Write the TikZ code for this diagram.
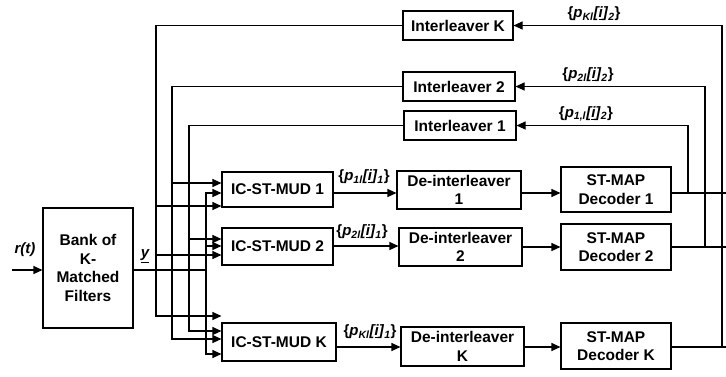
\documentclass[tikz,border=0pt]{standalone}
\usepackage{fontspec}
\setmainfont{Liberation Sans}
\usetikzlibrary{arrows.meta}
\newcommand{\plab}[2]{\{\textit{p}\textsubscript{\textit{#1}}\textit{[\underline{i}]}\textsubscript{\textit{#2}}\}}
\begin{document}
\begin{tikzpicture}[x=1pt,y=-1pt,line width=1.1pt,
  box/.style={draw,line width=1.1pt,align=center,inner sep=0pt,
    font=\fontsize{15.5}{18.5}\selectfont\bfseries},
  lab/.style={inner sep=0pt,font=\fontsize{15}{17}\selectfont\bfseries},
  arr/.style={-{Triangle[length=9pt,width=8pt]}}]
\useasboundingbox (0,0) rectangle (726,376);
% boxes
\node[box,minimum width=90pt,minimum height=120pt] (filt) at (88,268) {Bank of\\K-\\Matched\\Filters};
\node[box,minimum width=111pt,minimum height=35pt] (mud1) at (277.5,189.5) {IC-ST-MUD 1};
\node[box,minimum width=111pt,minimum height=37pt] (mud2) at (277.5,246.5) {IC-ST-MUD 2};
\node[box,minimum width=114pt,minimum height=38pt] (mudK) at (279,342) {IC-ST-MUD K};
\node[box,minimum width=124pt,minimum height=38pt] (dei1) at (459,190) {De-interleaver\\1};
\node[box,minimum width=123pt,minimum height=38pt] (dei2) at (460.5,247) {De-interleaver\\2};
\node[box,minimum width=123pt,minimum height=39pt] (deiK) at (462.5,346.5) {De-interleaver\\K};
\node[box,minimum width=110pt,minimum height=45pt] (dec1) at (616,189.5) {ST-MAP\\Decoder 1};
\node[box,minimum width=110pt,minimum height=46pt] (dec2) at (616,247) {ST-MAP\\Decoder 2};
\node[box,minimum width=110pt,minimum height=46pt] (decK) at (616,346) {ST-MAP\\Decoder K};
\node[box,minimum width=110pt,minimum height=29pt] (intK) at (458,25.5) {Interleaver K};
\node[box,minimum width=112pt,minimum height=29pt] (int2) at (459,86.5) {Interleaver 2};
\node[box,minimum width=112pt,minimum height=29pt] (int1) at (460,125.5) {Interleaver 1};
% labels
\node[lab] (lr) at (25,250) {\textit{r(t)}};
\node[lab] (ly) at (145,256) {\textit{\underline{y}}};
\node[lab] (l11) at (364,177) {\plab{1l}{1}};
\node[lab] (l21) at (362,232) {\plab{2l}{1}};
\node[lab] (lK1) at (370,332) {\plab{Kl}{1}};
\node[lab] (lK2) at (594,14) {\plab{Kl}{2}};
\node[lab] (l22) at (588,75) {\plab{2l}{2}};
\node[lab] (l12) at (586,114) {\plab{1,l}{2}};
% input
\coordinate (rin) at (12,270);
\draw[arr] (rin) -- (filt.west |- rin);
% y bus
\coordinate (yb) at (206,270);
\draw (filt.east |- yb) -- (yb);
\draw[arr] (yb) |- (mud1.west |- 0,193);
\draw[arr] (yb) |- (mudK.west |- 0,354);
\draw[arr] (206,246) -- (mud2.west |- 0,246);
% feedback from interleavers
\draw[arr] (intK.west) -| (156,316) -- (mudK.west |- 0,316);
\draw[arr] (156,206) -- (mud1.west |- 0,206);
\draw[arr] (156,255) -- (mud2.west |- 0,255);
\draw[arr] (int2.west) -| (172,339) -- (mudK.west |- 0,339);
\draw[arr] (172,183) -- (mud1.west |- 0,183);
\draw[arr] (int1.west) -| (189,331) -- (mudK.west |- 0,331);
\draw[arr] (189,239) -- (mud2.west |- 0,239);
% forward chain
\draw[arr] (mud1.east |- 0,193) -- (dei1.west |- 0,193);
\draw[arr] (mud2.east |- 0,246) -- (dei2.west |- 0,246);
\draw[arr] (mudK.east |- 0,347) -- (deiK.west |- 0,347);
\draw[arr] (dei1.east |- 0,193) -- (dec1.west |- 0,193);
\draw[arr] (dei2.east |- 0,247) -- (dec2.west |- 0,247);
\draw[arr] (deiK.east |- 0,347) -- (decK.west |- 0,347);
% decoder outputs
\coordinate (o1) at (726,193);
\coordinate (o2) at (726,247);
\coordinate (oK) at (726,347);
\draw (dec1.east |- o1) -- (o1);
\draw (dec2.east |- o2) -- (o2);
\draw (decK.east |- oK) -- (oK);
\draw[arr] (688,193) |- (int1.east);
\draw[arr] (705,247) |- (int2.east);
\draw[arr] (722,347) |- (intK.east);
\end{tikzpicture}
\end{document}
